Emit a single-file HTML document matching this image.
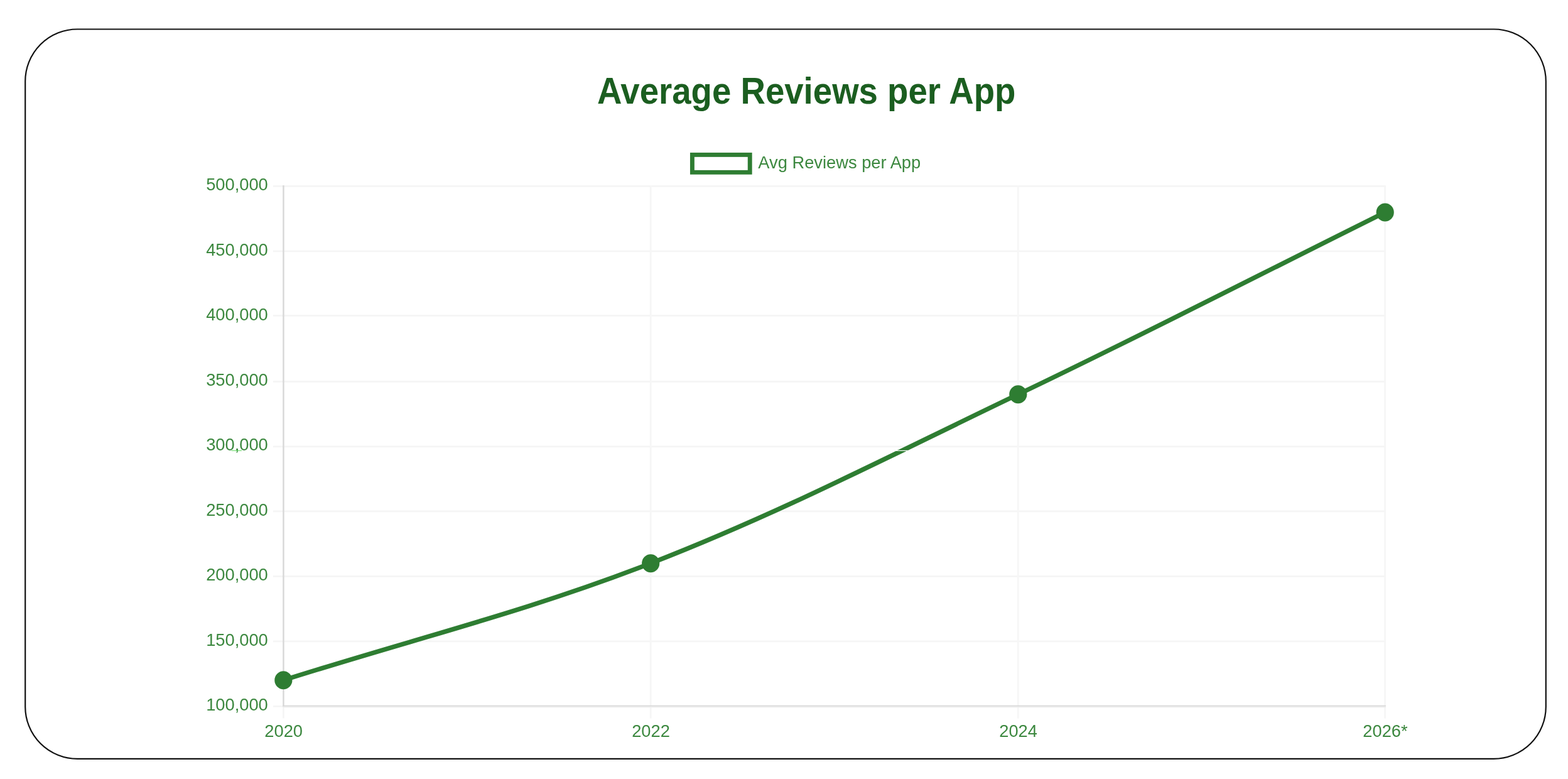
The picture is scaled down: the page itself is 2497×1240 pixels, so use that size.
<!DOCTYPE html>
<html lang="en">
<head>
<meta charset="utf-8">
<title>Average Reviews per App</title>
<style>
html,body{margin:0;padding:0;background:#fff;}
body{width:2497px;height:1240px;overflow:hidden;position:relative;font-family:"Liberation Sans",sans-serif;}
svg{position:absolute;left:0;top:0;display:block;}
text{font-family:"Liberation Sans",sans-serif;}
.title{font-size:54.6px;font-weight:700;fill:#1b5e20;text-anchor:middle;}
.lbl{font-size:27.3px;fill:#3c883f;}
.yl{text-anchor:end;}
.xl{text-anchor:middle;}
</style>
</head>
<body>
<svg width="2497" height="1240" viewBox="0 0 2497 1240">
<rect x="0" y="0" width="2497" height="1240" fill="#ffffff"/>
<rect x="40.2" y="46.5" width="2421.6" height="1161.4" rx="83" ry="83" fill="none" stroke="#111111" stroke-width="2.2"/>
<text class="title" transform="translate(1284.10 164.90) scale(1 1.07)">Average Reviews per App</text>
<rect x="1102.4" y="246.4" width="91.8" height="27.9" fill="#ffffff" stroke="#2e7d32" stroke-width="6.9"/>
<text class="lbl" transform="translate(1207.30 267.60) scale(1 1.04)">Avg Reviews per App</text>
<g>
<line x1="434.9" y1="1020.95" x2="2206.8" y2="1020.95" stroke="#f5f5f5" stroke-width="2.8"/>
<line x1="434.9" y1="917.38" x2="2206.8" y2="917.38" stroke="#f5f5f5" stroke-width="2.8"/>
<line x1="434.9" y1="813.86" x2="2206.8" y2="813.86" stroke="#f5f5f5" stroke-width="2.8"/>
<line x1="434.9" y1="710.80" x2="2206.8" y2="710.80" stroke="#f5f5f5" stroke-width="2.8"/>
<line x1="434.9" y1="607.30" x2="2206.8" y2="607.30" stroke="#f5f5f5" stroke-width="2.8"/>
<line x1="434.9" y1="502.40" x2="2206.8" y2="502.40" stroke="#f5f5f5" stroke-width="2.8"/>
<line x1="434.9" y1="399.81" x2="2206.8" y2="399.81" stroke="#f5f5f5" stroke-width="2.8"/>
<line x1="434.9" y1="296.30" x2="2206.8" y2="296.30" stroke="#f5f5f5" stroke-width="2.8"/>
<line x1="1036.20" y1="295.1" x2="1036.20" y2="1143.4" stroke="#f6f6f6" stroke-width="2.8"/>
<line x1="1621.30" y1="295.1" x2="1621.30" y2="1143.4" stroke="#f6f6f6" stroke-width="2.8"/>
<line x1="2205.70" y1="295.1" x2="2205.70" y2="1143.4" stroke="#f6f6f6" stroke-width="2.8"/>
<line x1="434.9" y1="1124.40" x2="451.4" y2="1124.40" stroke="#f5f5f5" stroke-width="2.5"/>
<line x1="451.40" y1="1124.4" x2="451.40" y2="1143.4" stroke="#f5f5f5" stroke-width="2.5"/>
<line x1="451.40" y1="295.1" x2="451.40" y2="1125.7" stroke="#d9d9d9" stroke-width="2.5"/>
<line x1="450.1" y1="1125.30" x2="2206.8" y2="1125.30" stroke="#ececec" stroke-width="2"/>
<line x1="450.1" y1="1123.55" x2="2206.8" y2="1123.55" stroke="#d6d6d6" stroke-width="1.5"/>
</g>
<g>
<text class="lbl yl" transform="translate(426.80 1131.40) scale(1 1.04)">100,000</text>
<text class="lbl yl" transform="translate(426.80 1027.89) scale(1 1.04)">150,000</text>
<text class="lbl yl" transform="translate(426.80 924.38) scale(1 1.04)">200,000</text>
<text class="lbl yl" transform="translate(426.80 820.86) scale(1 1.04)">250,000</text>
<text class="lbl yl" transform="translate(426.80 717.35) scale(1 1.04)">300,000</text>
<text class="lbl yl" transform="translate(426.80 613.84) scale(1 1.04)">350,000</text>
<text class="lbl yl" transform="translate(426.80 510.33) scale(1 1.04)">400,000</text>
<text class="lbl yl" transform="translate(426.80 406.81) scale(1 1.04)">450,000</text>
<text class="lbl yl" transform="translate(426.80 303.30) scale(1 1.04)">500,000</text>
</g>
<g>
<text class="lbl xl" transform="translate(451.65 1172.70) scale(1 1.04)">2020</text>
<text class="lbl xl" transform="translate(1036.50 1172.70) scale(1 1.04)">2022</text>
<text class="lbl xl" transform="translate(1621.60 1172.70) scale(1 1.04)">2024</text>
<text class="lbl xl" transform="translate(2206.00 1172.70) scale(1 1.04)">2026*</text>
</g>
<line x1="368.5" y1="717.3" x2="385" y2="717.3" stroke="#4fd34f" stroke-width="1.1" stroke-opacity="0.85"/>
<path d="M451.35 1082.75 C656.05 1017.63 836.38 974.40 1036.20 896.70 C1245.86 815.17 1417.96 724.95 1621.30 627.80 C1827.29 529.39 2001.16 439.40 2205.70 337.95" fill="none" stroke="#2e7d32" stroke-width="7.3" stroke-linecap="butt" stroke-linejoin="round"/>
<line x1="1421" y1="717.4" x2="1446" y2="717.4" stroke="#ffffff" stroke-width="1.2"/>
<ellipse cx="451.35" cy="1082.75" rx="14.1" ry="14.45" fill="#2e7d32"/>
<ellipse cx="1036.20" cy="896.70" rx="14.1" ry="14.45" fill="#2e7d32"/>
<ellipse cx="1621.30" cy="627.80" rx="14.1" ry="14.45" fill="#2e7d32"/>
<ellipse cx="2205.70" cy="337.95" rx="14.1" ry="14.45" fill="#2e7d32"/>
</svg>
</body>
</html>
